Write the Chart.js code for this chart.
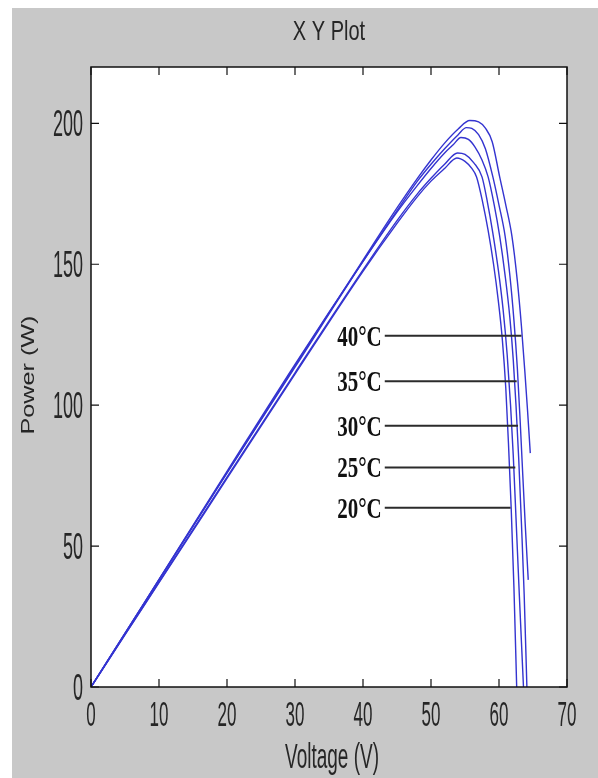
<!DOCTYPE html>
<html>
<head>
<meta charset="utf-8">
<script src="https://cdn.jsdelivr.net/npm/chart.js@4.4.1/dist/chart.umd.min.js"></script>
<style>
  html, body { margin: 0; padding: 0; background: #fff; }
  #wrap { position: relative; width: 598px; height: 778px; }
</style>
</head>
<body>
<div id="wrap"><canvas id="pvChart"></canvas></div>
<script>
// ---- data (voltage in V, power in W) ----
const volts1 = [0, 5, 10, 20, 30, 40, 45, 48, 50, 52, 54, 55.7, 57, 58, 59, 60.1, 61, 61.9, 62.7, 63.3, 63.8, 64.2, 64.6];
const watts1 = [0, 19, 38, 76, 114, 151.5, 170, 180.5, 187, 193, 198, 201, 200.5, 198.3, 193.5, 181, 171, 160, 144, 128, 112, 98, 83];

const volts2 = [0, 5, 10, 20, 30, 40, 45, 48, 50, 52, 54, 55.2, 56, 57, 58, 59.1, 60, 60.9, 61.6, 62.2, 62.7, 63.1, 63.4, 63.85, 64.3];
const watts2 = [0, 19, 38, 76, 113.5, 151, 169, 179.5, 185.5, 191, 196, 198.5, 198.2, 196, 191, 181, 171, 160, 146, 130, 113, 95, 80, 58, 38];

const volts3 = [0, 5, 10, 20, 30, 40, 45, 48, 50, 52, 53.3, 54.4, 55.5, 56.5, 57.5, 58.4, 59.3, 60.1, 60.9, 61.6, 62.1, 62.5, 62.9, 63.3, 63.7, 64.1];
const watts3 = [0, 19, 38.2, 76.5, 114.5, 151, 168.5, 178, 184, 189.5, 192.5, 195, 194.3, 191.5, 187, 181, 171, 160, 146, 131, 116, 100, 81, 58, 33, 0];

const volts4 = [0, 5, 10, 20, 30, 40, 45, 48, 50, 52, 53.9, 55, 56.3, 57.5, 58.3, 59.1, 59.9, 60.6, 61.2, 61.7, 62.1, 62.5, 63, 63.6];
const watts4 = [0, 18.6, 37.2, 74.5, 111.5, 148, 165.5, 175, 180.5, 185.5, 189.5, 189, 186, 181, 172, 161, 148, 134, 118, 100, 82, 60, 32, 0];

const volts5 = [0, 5, 10, 20, 30, 40, 45, 48, 50, 52, 53.8, 55, 56, 56.7, 57.6, 58.4, 59.2, 59.9, 60.5, 61, 61.4, 61.8, 62.2, 62.6];
const watts5 = [0, 18.6, 37, 74, 111, 147.5, 164.5, 174, 179.5, 184, 187.7, 186.5, 184, 181, 172, 162, 150, 137, 123, 106, 86, 63, 35, 0];

const xTicks = [0, 10, 20, 30, 40, 50, 60, 70];
const yTicks = [0, 50, 100, 150, 200];

// temperature labels with their pointer lines
const tempLabels = ['40°C', '35°C', '30°C', '25°C', '20°C'];
const labelPower = [124.6, 108.5, 92.7, 77.9, 63.6];
const labelEndVolts = [63.3, 62.6, 62.8, 62.4, 61.7];
const labelStartVolts = 43.2;

const curveColor = '#3434d0';

function toPoints(xs, ys) {
    return xs.map((v, i) => ({ x: v, y: ys[i] }));
}

// text squeezed like the original screenshot (taller than wide)
function tallText(ctx, text, x, y, font, sy, align) {
    ctx.save();
    ctx.translate(x, y);
    ctx.scale(1, sy);
    ctx.font = font;
    ctx.textAlign = align;
    ctx.textBaseline = 'alphabetic';
    ctx.fillText(text, 0, 0);
    ctx.restore();
}

const SANS = '"Liberation Sans", Arial, sans-serif';

const matlabFrame = {
    id: 'matlabFrame',
    beforeDraw(chart) {
        const ctx = chart.ctx;
        const a = chart.chartArea;
        ctx.save();
        ctx.fillStyle = '#ffffff';
        ctx.fillRect(0, 0, chart.width, chart.height);
        ctx.fillStyle = '#c8c8c8';
        ctx.fillRect(12, 8, chart.width - 12, chart.height - 8);
        ctx.fillStyle = '#ffffff';
        ctx.fillRect(a.left, a.top, a.right - a.left, a.bottom - a.top);
        ctx.restore();
    },
    afterDatasetsDraw(chart) {
        const ctx = chart.ctx;
        const a = chart.chartArea;
        const xs = chart.scales.x;
        const ys = chart.scales.y;
        ctx.save();

        // pointer lines of the temperature labels
        ctx.strokeStyle = '#2b2b2b';
        ctx.lineWidth = 2;
        tempLabels.forEach((t, i) => {
            const py = ys.getPixelForValue(labelPower[i]);
            ctx.beginPath();
            ctx.moveTo(xs.getPixelForValue(labelStartVolts), py);
            ctx.lineTo(xs.getPixelForValue(labelEndVolts[i]), py);
            ctx.stroke();
        });

        // box + inward ticks on all sides
        ctx.strokeStyle = '#111';
        ctx.lineWidth = 1.5;
        ctx.strokeRect(a.left, a.top, a.right - a.left, a.bottom - a.top);
        ctx.lineWidth = 1.2;
        ctx.beginPath();
        xTicks.forEach(v => {
            const px = xs.getPixelForValue(v);
            ctx.moveTo(px, a.bottom); ctx.lineTo(px, a.bottom - 8);
            ctx.moveTo(px, a.top); ctx.lineTo(px, a.top + 8);
        });
        yTicks.forEach(v => {
            const py = ys.getPixelForValue(v);
            ctx.moveTo(a.left, py); ctx.lineTo(a.left + 8, py);
            ctx.moveTo(a.right, py); ctx.lineTo(a.right - 8, py);
        });
        ctx.stroke();
        ctx.restore();
    },
    afterDraw(chart) {
        const ctx = chart.ctx;
        const a = chart.chartArea;
        const xs = chart.scales.x;
        const ys = chart.scales.y;
        const midX = (a.left + a.right) / 2;
        ctx.save();
        ctx.fillStyle = '#262626';

        // title
        tallText(ctx, 'X Y Plot', midX, 40, '20px ' + SANS, 1.4, 'center');

        // tick labels
        xTicks.forEach(v => {
            tallText(ctx, String(v), xs.getPixelForValue(v), a.bottom + 39, '17px ' + SANS, 2.1, 'center');
        });
        yTicks.forEach(v => {
            tallText(ctx, String(v), a.left - 8, ys.getPixelForValue(v) + 13, '18px ' + SANS, 2.0, 'right');
        });

        // axis titles
        tallText(ctx, 'Voltage (V)', midX + 3, a.bottom + 81, '19px ' + SANS, 1.8, 'center');
        ctx.save();
        ctx.translate(34, 375);
        ctx.rotate(-Math.PI / 2);
        ctx.scale(1.4, 1);
        ctx.font = '18px ' + SANS;
        ctx.textAlign = 'center';
        ctx.textBaseline = 'alphabetic';
        ctx.fillText('Power (W)', 0, 0);
        ctx.restore();

        // temperature labels
        ctx.fillStyle = '#111';
        tempLabels.forEach((t, i) => {
            const py = ys.getPixelForValue(labelPower[i]);
            const px = xs.getPixelForValue(labelStartVolts) - 3;
            tallText(ctx, t, px, py + 10, 'bold 21px "Liberation Serif", "Times New Roman", serif', 1.45, 'right');
        });
        ctx.restore();
    }
};

const curves = [
    toPoints(volts1, watts1),
    toPoints(volts2, watts2),
    toPoints(volts3, watts3),
    toPoints(volts4, watts4),
    toPoints(volts5, watts5)
];

const ctx = document.getElementById('pvChart').getContext('2d');
const pvChart = new Chart(ctx, {
    type: 'line',
    data: {
        datasets: curves.map(pts => ({
            data: pts,
            borderColor: curveColor,
            borderWidth: 1.4,
            pointRadius: 0,
            fill: false,
            cubicInterpolationMode: 'monotone'
        }))
    },
    options: {
        responsive: true,
        maintainAspectRatio: false,
        animation: false,
        layout: { padding: { left: 91, right: 31, top: 67, bottom: 91 } },
        plugins: {
            legend: { display: false },
            tooltip: { enabled: false },
            title: { display: false }
        },
        scales: {
            x: { type: 'linear', min: 0, max: 70, display: false },
            y: { type: 'linear', min: 0, max: 220, display: false }
        }
    },
    plugins: [matlabFrame]
});
</script>
</body>
</html>
